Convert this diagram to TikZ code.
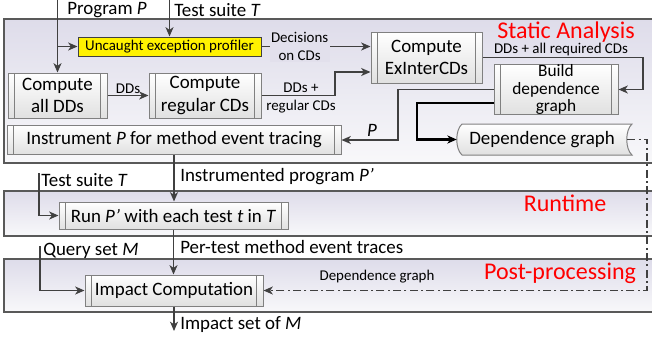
\documentclass[tikz,border=0pt]{standalone}
\usepackage{fontspec}
\setmainfont{Carlito}
\usepackage{tikz}
\usetikzlibrary{arrows.meta}
\definecolor{linegray}{RGB}{64,64,64}
\definecolor{boxgray}{RGB}{128,128,128}
\definecolor{panelgray}{RGB}{89,89,89}
\definecolor{lavender}{RGB}{222,220,234}
\definecolor{paleback}{RGB}{248,248,250}
\definecolor{lblred}{RGB}{255,0,0}
\newcommand{\bigtxt}{\fontsize{14.2}{17}\selectfont}
\newcommand{\smalltxt}{\fontsize{11.2}{13.5}\selectfont}
\newcommand{\redtxt}{\fontsize{18}{20}\selectfont}
\tikzset{
  tip/.style={-{Stealth[length=7pt,width=6pt,inset=2pt]}},
  arr/.style={draw=linegray, line width=1.1pt, tip},
  procbox/.style={draw=boxgray, line width=0.75pt, top color=white, bottom color=black!12,
    inner sep=0pt, align=center, font=\bigtxt,
    path picture={\draw[boxgray, line width=0.6pt]
      ([xshift=5pt]path picture bounding box.north west) -- ([xshift=5pt]path picture bounding box.south west)
      ([xshift=-5pt]path picture bounding box.north east) -- ([xshift=-5pt]path picture bounding box.south east);}},
  panel/.style={draw=panelgray, line width=1.1pt, top color=lavender, bottom color=paleback},
  lbl/.style={font=\smalltxt, inner sep=1pt, align=center},
  txt/.style={font=\bigtxt, inner sep=0pt, anchor=west},
  phase/.style={font=\redtxt, text=lblred, inner sep=0pt},
}
\begin{document}
\begin{tikzpicture}[x=0.75pt, y=-0.75pt]
  \clip (0,0) rectangle (652,339);
  % phases
  \draw[panel] (4,19) rectangle (660,163);
  \draw[panel] (4,191) rectangle (660,236);
  \draw[panel] (4,259) rectangle (660,312);
  \node[phase] (stlbl) at (566,32) {Static Analysis};
  \node[phase] (rtlbl) at (565,203) {Runtime};
  \node[phase] (pplbl) at (560,273) {Post-processing};

  % steps
  \node[draw=linegray, fill=yellow, line width=0.75pt, minimum width=137.25pt, minimum height=14.25pt,
    inner sep=0pt, font=\smalltxt] (prof) at (169.5,46.5) {Uncaught exception profiler};
  \node[procbox, minimum width=74.25pt, minimum height=33.75pt] (alldd) at (57.5,95.5) {Compute\\all DDs};
  \node[procbox, minimum width=84pt, minimum height=33.75pt] (regcd) at (205,95.5) {Compute\\regular CDs};
  \node[procbox, minimum width=83.25pt, minimum height=38.25pt] (exinter) at (426.5,57.5) {Compute\\ExInterCDs};
  \node[procbox, minimum width=93pt, minimum height=35.25pt, font=\fontsize{13}{13.2}\selectfont] (build) at (556,89.5) {Build\\dependence\\graph};
  \node[procbox, minimum width=250.5pt, minimum height=21.75pt] (instr) at (174,140) {Instrument \textit{P} for method event tracing};
  \draw[draw=boxgray, line width=0.75pt, top color=white, bottom color=black!12]
    (462,124) .. controls (455,130) and (455,149) .. (462,155) -- (632,155)
    .. controls (625,149) and (625,130) .. (632,124) -- cycle;
  \node[font=\bigtxt, minimum width=127.5pt, minimum height=23.25pt, inner sep=0pt] (depg) at (542,139.5) {Dependence graph};
  \node[procbox, minimum width=171.75pt, minimum height=20.25pt] (run) at (173.5,215.5) {Run \textit{P’} with each test \textit{t} in \textit{T}};
  \node[procbox, minimum width=133.5pt, minimum height=23.25pt] (impact) at (174,290.5) {Impact Computation};

  % inputs
  \coordinate (progtop) at (57.5,0);
  \coordinate (tstop) at (169.5,0);
  \node[txt] (proglbl) at (67,10) {Program \textit{P}};
  \node[txt] (tslbl) at (174,10) {Test suite \textit{T}};
  \draw[arr] (progtop) -- (alldd.north);
  \draw[arr] (progtop |- prof.west) -- (prof.west);
  \draw[arr] (tstop) -- (prof.north);

  % static analysis flow
  \draw[arr] (prof.east) -- (prof.east -| exinter.west)
    node[pos=0.35, lbl, fill=lavender!85!paleback] (declbl) {Decisions\\on CDs};
  \draw[arr] (alldd) -- (regcd) node[midway, above, lbl] (ddlbl) {DDs};
  \coordinate (cdbend) at (335,72);
  \draw[arr] (regcd.east) -| (cdbend) -- (cdbend -| exinter.west);
  \node[lbl] (regcdlbl) at (301,98) {DDs +\\regular CDs};
  \coordinate (allcorner) at (643,89.5);
  \draw[arr] (exinter.east) -| (allcorner) -- (build.east);
  \node[lbl] (alllbl) at (561,50) {DDs + all required CDs};
  \coordinate (pbend) at (398,89.5);
  \draw[arr] (build.west) -- (pbend) |- (instr.east);
  \node[font=\bigtxt, inner sep=0pt] (plbl) at (372,130) {\textit{P}};
  \coordinate (gbend) at (417,103);
  \draw[black, line width=2.2pt, tip] (build.west |- gbend) -- (gbend) |- (depg.west);
  \coordinate (dgcorner) at (647,290.5);
  \draw[linegray, line width=1.1pt, tip, dash pattern=on 6pt off 2.5pt on 1.5pt off 2.5pt]
    (depg.east) -| (dgcorner) -- (impact.east);
  \node[lbl] (dglbl) at (377,277) {Dependence graph};

  % runtime and post-processing
  \draw[arr] (instr.south) -- (instr.south |- run.north);
  \node[txt] (iplbl) at (180,177) {Instrumented program \textit{P’}};
  \coordinate (tstop2) at (39,173);
  \node[txt] (ts2lbl) at (41,180) {Test suite \textit{T}};
  \draw[arr] (tstop2) |- (run.west);
  \draw[arr] (run.south) -- (run.south |- impact.north);
  \node[txt] (trlbl) at (180,247) {Per-test method event traces};
  \coordinate (qtop) at (40,246);
  \node[txt] (qlbl) at (43,251) {Query set \textit{M}};
  \draw[arr] (qtop) |- (impact.west);
  \coordinate (impout) at (174,331);
  \draw[arr] (impact.south) -- (impout);
  \node[txt] (islbl) at (180,325) {Impact set of \textit{M}};
\end{tikzpicture}
\end{document}
